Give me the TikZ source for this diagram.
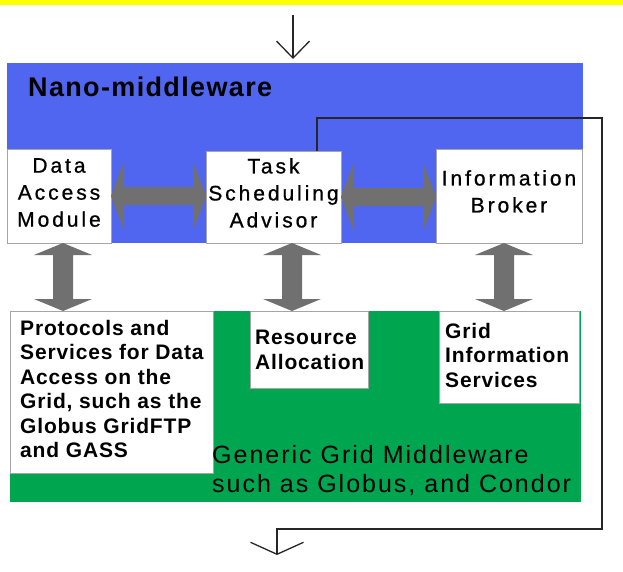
\documentclass[tikz,border=0pt]{standalone}
\usepackage{fontspec}
\setmainfont{Liberation Sans}
\newfontfamily\nanofont[LetterSpace=5]{Liberation Sans}
\newfontfamily\modfont[LetterSpace=14,FakeBold=0.8]{Liberation Sans}
\newfontfamily\gridfont[LetterSpace=4]{Liberation Sans}
\newfontfamily\genfont[LetterSpace=8]{Liberation Sans}
\usetikzlibrary{calc,arrows.meta}

\definecolor{nanoblue}{RGB}{80,102,240}
\definecolor{gridgreen}{RGB}{0,165,80}
\definecolor{fatgray}{RGB}{112,112,112}
\definecolor{edgegray}{RGB}{165,165,165}
\definecolor{bannerYellow}{RGB}{255,255,0}

% fat grey two-headed arrows between named points (y axis points down)
\newcommand\hfat[2]{%
  \fill[fatgray] (#1) -- ++(13,-35) -- ++(0,26) -- ($(#2)+(-13,-9)$) -- ++(0,-26)
    -- (#2) -- ++(-13,35) -- ++(0,-26) -- ($(#1)+(13,9)$) -- ++(0,26) -- cycle;}
\newcommand\vfat[2]{%
  \fill[fatgray] (#1) -- ++(-29,12) -- ++(19,0) -- ($(#2)+(-10,-12)$) -- ++(-19,0)
    -- (#2) -- ++(29,-12) -- ++(-19,0) -- ($(#1)+(10,12)$) -- ++(19,0) -- cycle;}

\begin{document}
\begin{tikzpicture}[x=1pt,y=-1pt,
  layer/.style={draw=none, inner sep=0pt, outer sep=0pt, anchor=north west},
  modbox/.style={draw=edgegray, line width=0.8pt, fill=white, inner sep=0pt,
    outer sep=0pt, anchor=north west},
  modtext/.style={font=\modfont\fontsize{21}{27}\selectfont, align=center,
    inner sep=0pt, anchor=north},
  gridtext/.style={font=\gridfont\bfseries\fontsize{21}{24.5}\selectfont,
    align=left, inner sep=0pt, anchor=north west},
  flow/.style={draw=black!85, line width=1.3pt}]
\useasboundingbox (0,0) rectangle (623,571);
\fill[white] (0,0) rectangle (623,571);
\fill[bannerYellow] (0,0) rectangle (623,4.5);

% the two layers
\node[layer, fill=nanoblue, minimum width=576pt, minimum height=180pt] (nano) at (7,63) {};
\node[layer, fill=gridgreen, minimum width=571pt, minimum height=191pt] (grid) at (10,311) {};

% nano-middleware modules
\node[modbox, minimum width=104pt, minimum height=94pt] (dam) at (7,149) {};
\node[modbox, minimum width=135pt, minimum height=92pt] (tsa) at (206,151) {};
\node[modbox, minimum width=146pt, minimum height=94pt] (ib) at (436,149) {};

% grid middleware services
\node[modbox, minimum width=203pt, minimum height=162pt] (prot) at (10,311) {};
\node[modbox, minimum width=118pt, minimum height=77pt] (ra) at (250,311) {};
\node[modbox, minimum width=140pt, minimum height=92pt] (gis) at (439,311) {};

% labels
\node[font=\nanofont\bfseries\fontsize{27}{32}\selectfont, inner sep=0pt,
  anchor=base west] (nanot) at ([shift={(21,33)}]nano.north west) {Nano-middleware};
\node[modtext] (damt) at ([shift={(0,9)}]dam.north) {Data\\Access\\Module};
\node[modtext] (tsat) at ([shift={(0,7)}]tsa.north) {Task\\Scheduling\\Advisor};
\node[modtext] (ibt) at ([shift={(0,21)}]ib.north) {Information\\Broker};
\node[gridtext] (prott) at ([shift={(10,9)}]prot.north west)
  {Protocols and\\Services for Data\\Access on the\\Grid, such as the\\Globus GridFTP\\and GASS};
\node[gridtext] (rat) at ([shift={(5,19)}]ra.north west) {Resource\\Allocation};
\node[gridtext] (gist) at ([shift={(6,12)}]gis.north west) {Grid\\Information\\Services};
\node[font=\genfont\fontsize{25}{29}\selectfont, align=left, inner sep=0pt,
  anchor=north west] (gent) at ([shift={(202,134)}]grid.north west)
  {Generic Grid Middleware\\such as Globus, and Condor};

% horizontal links between modules
\coordinate (h1a) at (dam.east);
\coordinate (h1b) at (dam.east -| tsa.west);
\coordinate (h2a) at (tsa.east);
\coordinate (h2b) at (tsa.east -| ib.west);
\hfat{h1a}{h1b}
\hfat{h2a}{h2b}

% vertical links down to the grid services
\coordinate (v1a) at ([xshift=4pt]dam.south);
\coordinate (v1b) at (v1a |- prot.north);
\coordinate (v2a) at ([xshift=18.5pt]tsa.south);
\coordinate (v2b) at (v2a |- ra.north);
\coordinate (v3a) at ([xshift=-5pt]ib.south);
\coordinate (v3b) at (v3a |- gis.north);
\vfat{v1a}{v1b}
\vfat{v2a}{v2b}
\vfat{v3a}{v3b}

% request in, result out
\coordinate (topin) at (293,15);
\draw[flow, shorten >=4pt, -{Straight Barb[length=17pt,width=33pt]}] (topin) -- (topin |- nano.north);
\coordinate (fbup) at ([xshift=43.5pt]tsa.north);
\coordinate (fbtop) at (602,118);
\coordinate (fbbot) at (602,529);
\coordinate (fbout) at (277,555);
\draw[flow, -{Straight Barb[length=12pt,width=53pt]}] (fbup) |- (fbtop) -- (fbbot) -| (fbout);
\end{tikzpicture}
\end{document}
